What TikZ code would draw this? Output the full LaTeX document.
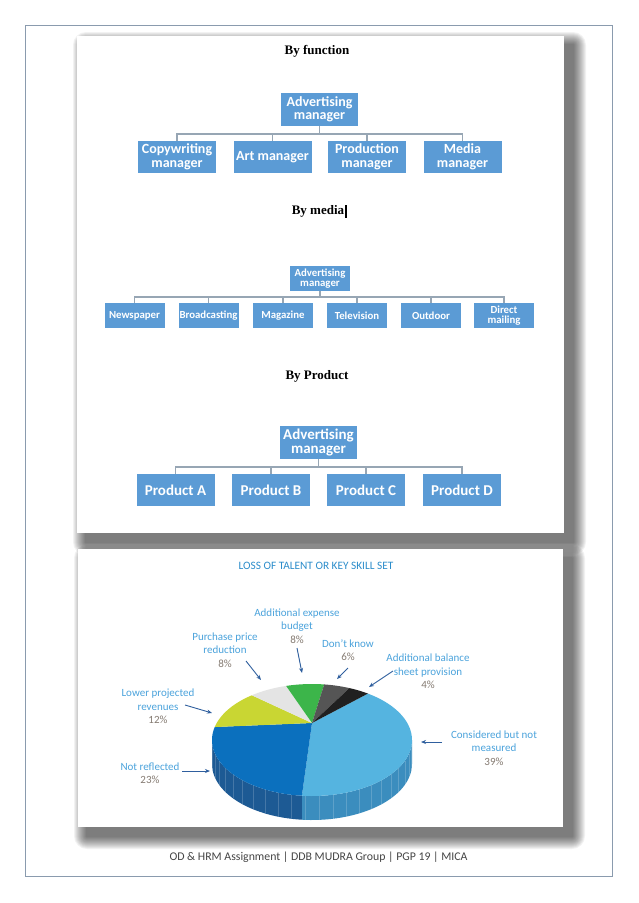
\documentclass[tikz,border=0pt]{standalone}
\usepackage{fontspec}
\setmainfont{Carlito}
\newfontfamily\timesfont{Liberation Serif}
\usetikzlibrary{arrows.meta,calc}

\definecolor{orgblue}{HTML}{5B9BD5}
\definecolor{orgline}{HTML}{97A6B4}
\definecolor{framec}{HTML}{8A9BAE}
\definecolor{lbl}{HTML}{4BA3DC}
\definecolor{pct}{HTML}{857B72}
\definecolor{arrc}{HTML}{2F5F9E}
\definecolor{ttl}{HTML}{2C8DCB}
\definecolor{footc}{HTML}{454545}
\definecolor{pLB}{HTML}{55B4E0}
\definecolor{pB}{HTML}{0B70BE}
\definecolor{pY}{HTML}{C9D633}
\definecolor{pG}{HTML}{E4E4E4}
\definecolor{pGr}{HTML}{3CB54A}
\definecolor{pDG}{HTML}{555555}
\definecolor{pK}{HTML}{202020}
\definecolor{sB}{HTML}{1D5A94}
\definecolor{sLB}{HTML}{3B8DBE}

\def\pcx{312}
\def\pcy{740}
\def\prx{100}
\def\pry{56}
\def\pdep{24}

\begin{document}
\begin{tikzpicture}[x=1pt,y=-1pt,
  box/.style={fill=orgblue, text=white, inner sep=0pt, align=center},
  fbox/.style={box, minimum width=78pt, minimum height=32pt, font=\fontsize{14}{13.5}\selectfont\bfseries},
  mbox/.style={box, minimum width=60pt, minimum height=25pt, font=\fontsize{10.8}{10.5}\selectfont\bfseries},
  pbox/.style={box, minimum width=78pt, minimum height=32pt, font=\fontsize{15}{14.5}\selectfont\bfseries},
  conn/.style={draw=orgline, line width=1.2pt},
  ttlserif/.style={font=\timesfont\fontsize{13}{15}\selectfont\bfseries, inner sep=0pt},
  lab/.style={align=center, text=lbl, inner sep=0pt, font=\fontsize{11}{13.3}\selectfont},
  arrow/.style={draw=arrc, line width=0.9pt, -{Stealth[length=5pt,width=4pt]}},
  shadelayer/.style={fill=black, opacity=0.05}
]
\useasboundingbox (0,0) rectangle (638,903);
\fill[white] (0,0) rectangle (638,903);

% page frame
\draw[framec, line width=1.3pt] (25.5,25.5) rectangle (612.5,876.5);

% card shadows (soft, offset right/down)
\foreach \g in {1,...,13} {
  \fill[shadelayer, rounded corners=\g pt] ({77+9-\g},{36+9-\g}) rectangle ({564+9+\g},{533+9+\g});
  \fill[shadelayer, rounded corners=\g pt] ({78+9-\g},{549+9-\g}) rectangle ({563+9+\g},{827+9+\g});
}
% cards
\fill[white] (77,36) rectangle (564,533);
\fill[white] (78,549) rectangle (563,827);

% ---------- By function ----------
\node[ttlserif] (tf) at (317,51) {By function};
\node[fbox, minimum width=77pt, minimum height=33pt] (f0) at (319.5,109.5) {Advertising\\manager};
\node[fbox] (f1) at (177,157) {Copywriting\\manager};
\node[fbox] (f2) at (272.5,157) {Art manager};
\node[fbox] (f3) at (367,157) {Production\\manager};
\node[fbox] (f4) at (462.5,157) {Media\\manager};
\coordinate (fbus) at (319.5,134);
\draw[conn] (f0.south) -- (fbus);
\foreach \n in {f1,f2,f3,f4} \draw[conn] (fbus) -| (\n.north);

% ---------- By media ----------
\node[ttlserif] (tm) at (318,211) {By media};
\fill[black] (344.5,205) rectangle (346.5,218);
\node[mbox] (m0) at (320,278.5) {Advertising\\manager};
\node[mbox] (m1) at (134.5,315.5) {Newspaper};
\node[mbox] (m2) at (208.5,315.5) {Broadcasting};
\node[mbox] (m3) at (283,315.5) {Magazine};
\node[mbox] (m4) at (357,315.5) {Television};
\node[mbox] (m5) at (431,315.5) {Outdoor};
\node[mbox] (m6) at (504,315.5) {Direct\\mailing};
\coordinate (mbus) at (320,297);
\draw[conn] (m0.south) -- (mbus);
\foreach \n in {m1,m2,m3,m4,m5,m6} \draw[conn] (mbus) -| (\n.north);

% ---------- By Product ----------
\node[ttlserif] (tp) at (317,376) {By Product};
\node[pbox, minimum width=77pt, minimum height=33pt] (p0) at (318.5,442.5) {Advertising\\manager};
\node[pbox] (p1) at (175.5,490) {Product A};
\node[pbox] (p2) at (271,490) {Product B};
\node[pbox] (p3) at (366,490) {Product C};
\node[pbox] (p4) at (462,490) {Product D};
\coordinate (pbus) at (318.5,467);
\draw[conn] (p0.south) -- (pbus);
\foreach \n in {p1,p2,p3,p4} \draw[conn] (pbus) -| (\n.north);

% ---------- Pie chart ----------
\node[text=ttl, inner sep=0pt, font=\fontsize{11.3}{12}\selectfont] (pt) at (316,566) {LOSS OF TALENT OR KEY SKILL SET};

% side walls
\fill[sLB] plot[domain=0:95.8, samples=40] ({\pcx+\prx*cos(\x)},{\pcy+\pry*sin(\x)})
  -- plot[domain=95.8:0, samples=40] ({\pcx+\prx*cos(\x)},{\pcy+\pdep+\pry*sin(\x)}) -- cycle;
\fill[sB] plot[domain=95.8:180, samples=40] ({\pcx+\prx*cos(\x)},{\pcy+\pry*sin(\x)})
  -- plot[domain=180:95.8, samples=40] ({\pcx+\prx*cos(\x)},{\pcy+\pdep+\pry*sin(\x)}) -- cycle;
\foreach \t in {6,14,...,174}
  \draw[white, opacity=0.18, line width=0.4pt] ({\pcx+\prx*cos(\t)},{\pcy+\pry*sin(\t)}) -- ++(0,\pdep);

% top face
\coordinate (pc) at (312,723);
\fill[pLB] (pc) -- plot[domain=-56:95.8, samples=60] ({\pcx+\prx*cos(\x)},{\pcy+\pry*sin(\x)}) -- cycle;
\fill[pB]  (pc) -- plot[domain=95.8:193.4, samples=40] ({\pcx+\prx*cos(\x)},{\pcy+\pry*sin(\x)}) -- cycle;
\fill[pY]  (pc) -- plot[domain=-166.6:-127, samples=20] ({\pcx+\prx*cos(\x)},{\pcy+\pry*sin(\x)}) -- cycle;
\fill[pG]  (pc) -- plot[domain=-127:-105, samples=15] ({\pcx+\prx*cos(\x)},{\pcy+\pry*sin(\x)}) -- cycle;
\fill[pGr] (pc) -- plot[domain=-105:-83, samples=15] ({\pcx+\prx*cos(\x)},{\pcy+\pry*sin(\x)}) -- cycle;
\fill[pDG] (pc) -- plot[domain=-83:-68, samples=12] ({\pcx+\prx*cos(\x)},{\pcy+\pry*sin(\x)}) -- cycle;
\fill[pK]  (pc) -- plot[domain=-68:-56, samples=12] ({\pcx+\prx*cos(\x)},{\pcy+\pry*sin(\x)}) -- cycle;

% labels
\node[lab] (lexp) at (297,626) {Additional expense\\budget\\\textcolor{pct}{8\%}};
\node[lab] (lpur) at (225,650) {Purchase price\\reduction\\\textcolor{pct}{8\%}};
\node[lab] (ldk)  at (348,650) {Don’t know\\\textcolor{pct}{6\%}};
\node[lab] (lbal) at (428,671.5) {Additional balance\\sheet provision\\\textcolor{pct}{4\%}};
\node[lab] (llow) at (158,706.5) {Lower projected\\revenues\\\textcolor{pct}{12\%}};
\node[lab] (lcon) at (494,748) {Considered but not\\measured\\\textcolor{pct}{39\%}};
\node[lab] (lnot) at (150,773.5) {Not reflected\\\textcolor{pct}{23\%}};

% arrows
\coordinate (aexp1) at (297,648); \coordinate (aexp2) at (302,673);
\coordinate (apur1) at (246,661); \coordinate (apur2) at (261,680);
\coordinate (adk1)  at (348,668); \coordinate (adk2)  at (337,679);
\coordinate (abal1) at (393,671); \coordinate (abal2) at (369,687);
\coordinate (alow1) at (185,705); \coordinate (alow2) at (212,713);
\coordinate (acon1) at (442,742); \coordinate (acon2) at (421,742);
\coordinate (anot1) at (182,771); \coordinate (anot2) at (210,771);
\draw[arrow] (aexp1) -- (aexp2);
\draw[arrow] (apur1) -- (apur2);
\draw[arrow] (adk1) -- (adk2);
\draw[arrow] (abal1) -- (abal2);
\draw[arrow] (alow1) -- (alow2);
\draw[arrow] (acon1) -- (acon2);
\draw[arrow] (anot1) -- (anot2);

% footer
\node[text=footc, inner sep=0pt, font=\fontsize{11.8}{13}\selectfont] (foot) at (318.5,857) {OD \& HRM Assignment | DDB MUDRA Group | PGP 19 | MICA};
\end{tikzpicture}
\end{document}
